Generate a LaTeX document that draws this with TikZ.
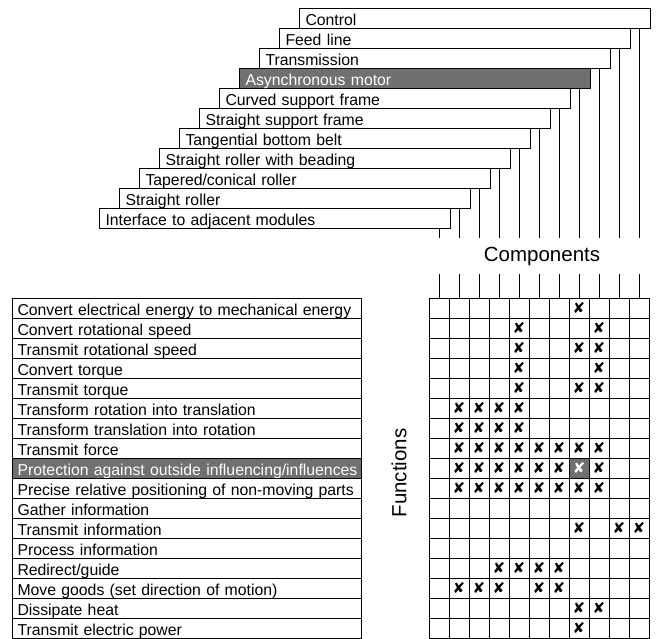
\documentclass[tikz,border=0pt]{standalone}
\usepackage{fontspec}
\setmainfont{Liberation Sans}
\newfontfamily\marksfont{DejaVu Sans}
\definecolor{hlgray}{gray}{0.44}
\begin{document}
\begin{tikzpicture}[x=1pt,y=-1pt,
  lab/.style={font=\fontsize{15.8}{18}\selectfont},
  compbox/.style={draw, line width=1pt, fill=white, anchor=north west,
    inner xsep=6pt, inner ysep=0pt, text width=339pt, align=left,
    minimum height=20pt, text height=14.6pt, text depth=0pt, lab},
  funcbox/.style={draw, line width=1pt, fill=white, anchor=north west,
    inner xsep=5pt, inner ysep=0pt, text width=339pt, align=left,
    minimum height=20pt, text height=14pt, text depth=0pt, lab},
  hl/.style={fill=hlgray, text=white},
  mk/.style={font=\marksfont\bfseries\fontsize{15}{15}\selectfont, inner sep=0pt},
  conn/.style={line width=1pt},
  axislab/.style={font=\fontsize{20.5}{24}\selectfont, inner sep=0pt}]

\useasboundingbox (0,0) rectangle (658,639);

% ---- component boxes (staircase) ----
\node[compbox] (comp0)  at (99,208)  {\mbox{Interface to adjacent modules}};
\node[compbox] (comp1)  at (119,188) {\mbox{Straight roller}};
\node[compbox] (comp2)  at (139,168) {\mbox{Tapered/conical roller}};
\node[compbox] (comp3)  at (159,148) {\mbox{Straight roller with beading}};
\node[compbox] (comp4)  at (179,128) {\mbox{Tangential bottom belt}};
\node[compbox] (comp5)  at (199,108) {\mbox{Straight support frame}};
\node[compbox] (comp6)  at (219,88)  {\mbox{Curved support frame}};
\node[compbox,hl] (comp7) at (239,68) {\mbox{Asynchronous motor}};
\node[compbox] (comp8)  at (259,48)  {\mbox{Transmission}};
\node[compbox] (comp9)  at (279,28)  {\mbox{Feed line}};
\node[compbox] (comp10) at (299,8)   {\mbox{Control}};

% ---- function rows ----
\node[funcbox] (f1)  at (12,298) {\mbox{Convert electrical energy to mechanical energy}};
\node[funcbox] (f2)  at (12,318) {\mbox{Convert rotational speed}};
\node[funcbox] (f3)  at (12,338) {\mbox{Transmit rotational speed}};
\node[funcbox] (f4)  at (12,358) {\mbox{Convert torque}};
\node[funcbox] (f5)  at (12,378) {\mbox{Transmit torque}};
\node[funcbox] (f6)  at (12,398) {\mbox{Transform rotation into translation}};
\node[funcbox] (f7)  at (12,418) {\mbox{Transform translation into rotation}};
\node[funcbox] (f8)  at (12,438) {\mbox{Transmit force}};
\node[funcbox,hl] (f9) at (12,458) {\mbox{Protection against outside influencing/influences}};
\node[funcbox] (f10) at (12,478) {\mbox{Precise relative positioning of non-moving parts}};
\node[funcbox] (f11) at (12,498) {\mbox{Gather information}};
\node[funcbox] (f12) at (12,518) {\mbox{Transmit information}};
\node[funcbox] (f13) at (12,538) {\mbox{Process information}};
\node[funcbox] (f14) at (12,558) {\mbox{Redirect/guide}};
\node[funcbox] (f15) at (12,578) {\mbox{Move goods (set direction of motion)}};
\node[funcbox] (f16) at (12,598) {\mbox{Dissipate heat}};
\node[funcbox] (f17) at (12,618) {\mbox{Transmit electric power}};

% ---- axis labels ----
\node[axislab] (complab) at (542,256) {Components};
\node[axislab, rotate=90] (funclab) at (399,473) {Functions};

% ---- matrix ----
\node[anchor=north west, fill=hlgray, minimum width=20pt, minimum height=20pt, inner sep=0pt] (hcell) at (569,458) {};
\node[draw, line width=1pt, anchor=north west, minimum width=220pt, minimum height=340pt, inner sep=0pt] (grid) at (429,298) {};
\foreach \c in {1,...,10} \draw[conn] ({429+20*\c},298) -- ++(0,340);
\foreach \r in {1,...,16} \draw[conn] (429,{298+20*\r}) -- ++(220,0);

% ---- column leads from the component boxes ----
\foreach \i in {0,...,10} {
  \coordinate (ctop\i) at ({439+20*\i},238);
  \coordinate (cstub\i) at ({439+20*\i},274);
  \draw[conn] (ctop\i |- comp\i.south) -- (ctop\i);
  \draw[conn] (cstub\i) -- (cstub\i |- grid.north);
}

% ---- assignment marks ----
\foreach \r/\c in {1/8, 2/5, 2/9, 3/5, 3/8, 3/9, 4/5, 4/9, 5/5, 5/8, 5/9,
  6/2, 6/3, 6/4, 6/5, 7/2, 7/3, 7/4, 7/5,
  8/2, 8/3, 8/4, 8/5, 8/6, 8/7, 8/8, 8/9,
  9/2, 9/3, 9/4, 9/5, 9/6, 9/7, 9/9,
  10/2, 10/3, 10/4, 10/5, 10/6, 10/7, 10/8, 10/9,
  12/8, 12/10, 12/11, 14/4, 14/5, 14/6, 14/7,
  15/2, 15/3, 15/4, 15/6, 15/7, 16/8, 16/9, 17/8}
  \node[mk] (m-\r-\c) at ({439+20*(\c-1)},{308+20*(\r-1)}) {✘};
\node[mk, text=white] (m-9-8) at (hcell.center) {✘};
\end{tikzpicture}
\end{document}
